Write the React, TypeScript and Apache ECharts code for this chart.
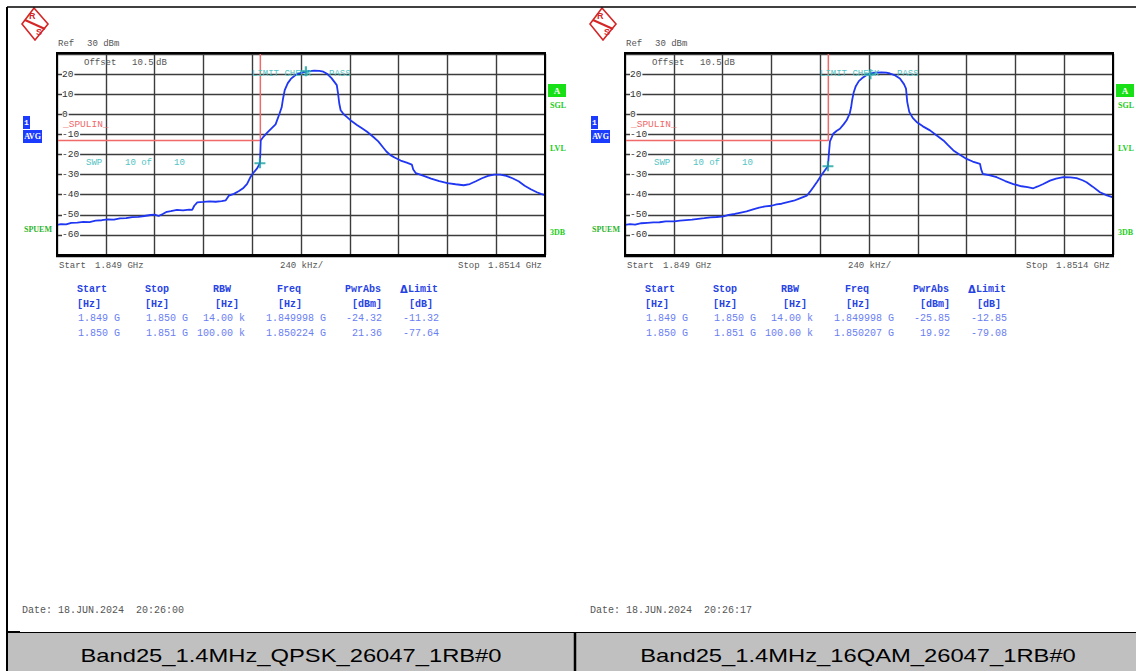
import React, { useEffect, useRef } from "react";
import * as echarts from "echarts";

// ---------- data ----------
const SPAN_KHZ = 2400; // 1.849 GHz .. 1.8514 GHz, offsets in kHz from start
const DIV_KHZ = 240;
const REF_TOP = 30;
const REF_BOTTOM = -70;
const DB_DIV = 10;

const leftFreq = [
  0, 20, 45, 70, 100, 130, 160, 190, 220, 250, 280, 310, 340, 370, 400, 430, 460, 480, 500, 520,
  540, 560, 590, 620, 650, 665, 675, 690, 720, 750, 780, 810, 830, 845, 870, 895, 915, 935, 950, 965,
  985, 998, 1000, 1002, 1015, 1035, 1055, 1075, 1095, 1105, 1112, 1120, 1135, 1150, 1170, 1190, 1215,
  1240, 1265, 1290, 1310, 1330, 1350, 1365, 1376, 1382, 1388, 1395, 1410, 1425, 1450, 1475, 1500,
  1525, 1556, 1580, 1600, 1620, 1640, 1660, 1690, 1720, 1745, 1752, 1765, 1800, 1840, 1880, 1920,
  1960, 2000, 2030, 2060, 2090, 2120, 2150, 2180, 2210, 2240, 2270, 2300, 2330, 2360, 2380, 2400,
];
const leftLevel = [
  -55.0, -54.6, -54.8, -54.0, -53.9, -53.5, -53.6, -52.9, -52.7, -52.3, -52.4, -51.8, -51.7, -51.2,
  -51.0, -50.6, -50.1, -49.9, -50.6, -49.6, -48.5, -48.2, -47.6, -47.8, -47.4, -47.6, -45.5, -43.8,
  -43.6, -43.3, -43.5, -43.2, -42.8, -40.5, -39.6, -38.2, -36.8, -34.6, -31.5, -29.2, -26.8, -24.3,
  -19.0, -13.0, -11.2, -9.0, -7.0, -5.0, 0.5, 3.5, 8.0, 12.0, 15.5, 17.6, 19.3, 20.4, 21.0, 21.5,
  21.7, 21.6, 21.2, 20.0, 18.0, 16.0, 14.5, 10.5, 5.5, 2.0, 0.0, -1.3, -3.5, -5.3, -7.0, -8.7, -11.3,
  -13.5, -16.0, -18.5, -20.3, -21.5, -23.0, -24.0, -25.0, -27.5, -29.3, -30.5, -32.0, -33.2, -34.2,
  -34.8, -35.3, -34.7, -33.3, -31.8, -30.6, -30.0, -30.0, -30.6, -31.8, -33.3, -35.5, -37.3, -38.8,
  -39.6, -40.2,
];

const rightFreq = [
  0, 25, 50, 80, 110, 140, 170, 200, 243, 270, 300, 330, 360, 390, 420, 450, 484, 510, 540, 570,
  598, 630, 660, 690, 721, 745, 770, 800, 830, 860, 894, 910, 926, 945, 965, 985, 998, 1004, 1008,
  1024, 1040, 1057, 1075, 1090, 1105, 1112, 1117, 1125, 1135, 1150, 1165, 1185, 1205, 1230, 1262,
  1285, 1303, 1325, 1352, 1372, 1382, 1388, 1398, 1415, 1434, 1465, 1500, 1530, 1566, 1590, 1615,
  1645, 1680, 1710, 1746, 1752, 1760, 1790, 1828, 1870, 1910, 1950, 1980, 2008, 2030, 2057, 2090,
  2120, 2156, 2190, 2221, 2250, 2270, 2300, 2336, 2370, 2400,
];
const rightLevel = [
  -55.0, -54.6, -54.9, -54.2, -54.0, -53.8, -53.7, -53.3, -53.3, -52.9, -52.6, -52.4, -52.0, -51.7,
  -51.3, -51.1, -50.8, -50.0, -49.6, -48.9, -48.3, -47.3, -46.4, -45.8, -45.5, -44.8, -44.5, -43.7,
  -43.0, -41.8, -40.5, -38.5, -36.3, -33.5, -30.5, -27.6, -25.9, -18.0, -13.5, -9.7, -8.3, -7.2,
  -5.0, -3.0, 0.3, 3.5, 7.0, 11.0, 14.0, 16.5, 17.9, 19.3, 20.2, 20.7, 20.8, 20.7, 20.3, 19.5, 17.8,
  15.0, 12.8, 6.2, 1.2, -1.8, -3.8, -6.0, -8.0, -10.3, -13.0, -15.5, -18.0, -20.0, -22.2, -23.5,
  -24.7, -27.5, -29.7, -30.3, -31.3, -33.2, -34.7, -35.8, -36.2, -36.8, -35.9, -34.7, -33.0, -32.0,
  -31.3, -31.4, -31.8, -32.8, -33.8, -36.0, -38.8, -40.3, -41.3,
];

const leftMarkerFreq = [998, 1224];
const leftMarkerLevel = [-24.32, 21.36];
const rightMarkerFreq = [998, 1207];
const rightMarkerLevel = [-25.85, 19.92];

const limitFreq = [0, 1000, 1000];
const limitLevel = [-13, -13, 30];

const tableHead = ["Start", "Stop", "RBW", "Freq", "PwrAbs", "Limit"];
const tableUnits = ["[Hz]", "[Hz]", "[Hz]", "[Hz]", "[dBm]", "[dB]"];
const leftRows = [
  ["1.849 G", "1.850 G", "14.00 k", "1.849998 G", "-24.32", "-11.32"],
  ["1.850 G", "1.851 G", "100.00 k", "1.850224 G", "21.36", "-77.64"],
];
const rightRows = [
  ["1.849 G", "1.850 G", "14.00 k", "1.849998 G", "-25.85", "-12.85"],
  ["1.850 G", "1.851 G", "100.00 k", "1.850207 G", "19.92", "-79.08"],
];
const captions = ["Band25_1.4MHz_QPSK_26047_1RB#0", "Band25_1.4MHz_16QAM_26047_1RB#0"];
const dates = ["Date: 18.JUN.2024  20:26:00", "Date: 18.JUN.2024  20:26:17"];

// ---------- layout ----------
const W = 1136;
const H = 671;
const PANEL_DX = 568;
const PLOT = { left: 57, top: 54, width: 488, height: 201 };
const MONO = "'Liberation Mono', 'DejaVu Sans Mono', monospace";
const GRAY = "#555";
const TEAL = "#52c3c3";
const RED = "#f06a6a";
const BLUE_TRACE = "#1f36f2";
const GREEN = "#22cc22";

const pairs = (xs: number[], ys: number[]) => xs.map((x, i) => [x, ys[i]]);

function txt(x: number, y: number, text: string, fill: string, size: number, extra: any = {}) {
  return {
    type: "text",
    x,
    y,
    z: 100,
    style: {
      text,
      fill,
      fontSize: size,
      fontFamily: extra.family || MONO,
      fontWeight: extra.bold ? "bold" : "normal",
      align: extra.align || "left",
      verticalAlign: "middle",
    },
  };
}

function panelGraphics(p: number) {
  const ox = p * PANEL_DX;
  const rows = p === 0 ? leftRows : rightRows;
  const g: any[] = [];
  // logo
  g.push({
    type: "polygon",
    z: 100,
    shape: { points: [[ox + 34, 8], [ox + 48, 24], [ox + 35, 40], [ox + 22, 24]] },
    style: { fill: "none", stroke: "#d42626", lineWidth: 1.6 },
  });
  g.push({
    type: "line",
    z: 100,
    shape: { x1: ox + 25, y1: 20, x2: ox + 45, y2: 29 },
    style: { stroke: "#d42626", lineWidth: 2.2 },
  });
  g.push(txt(ox + 29, 16, "R", "#d42626", 9, { bold: true, family: "Liberation Sans" }));
  g.push(txt(ox + 36, 32, "S", "#d42626", 9, { bold: true, family: "Liberation Sans" }));

  // header texts
  g.push(txt(ox + 58, 44, "Ref", GRAY, 9));
  g.push(txt(ox + 87, 44, "30 dBm", GRAY, 9));
  g.push(txt(ox + 84, 63, "Offset", GRAY, 9));
  g.push(txt(ox + 132, 63, "10.5", GRAY, 9));
  g.push(txt(ox + 156, 63, "dB", GRAY, 9));
  g.push(txt(ox + 252, 74, "LIMIT CHECK", TEAL, 9));
  g.push(txt(ox + 329, 74, "PASS", TEAL, 9));
  g.push(txt(ox + 63, 124.5, "_SPULIN_", RED, 9.5));
  g.push(txt(ox + 86, 163, "SWP", TEAL, 9));
  g.push(txt(ox + 125, 163, "10 of", TEAL, 9));
  g.push(txt(ox + 174, 163, "10", TEAL, 9));

  // left side badges
  g.push({ type: "rect", z: 100, shape: { x: ox + 23, y: 116, width: 7, height: 13 }, style: { fill: "#1b3cff" } });
  g.push(txt(ox + 26.5, 122.5, "1", "#fff", 8, { bold: true, align: "center" }));
  g.push({ type: "rect", z: 100, shape: { x: ox + 23, y: 130, width: 19, height: 13 }, style: { fill: "#1b3cff" } });
  g.push(txt(ox + 32.5, 136.5, "AVG", "#fff", 8, { bold: true, align: "center", family: "Liberation Serif" }));
  g.push(txt(ox + 24, 229, "SPUEM", "#2db52d", 8, { bold: true, family: "Liberation Serif" }));

  // right side badges
  g.push({ type: "rect", z: 100, shape: { x: ox + 548, y: 84, width: 18, height: 13 }, style: { fill: "#17e017" } });
  g.push(txt(ox + 557, 90.5, "A", "#fff", 9, { bold: true, align: "center", family: "Liberation Serif" }));
  g.push(txt(ox + 550, 105, "SGL", GREEN, 8, { bold: true, family: "Liberation Serif" }));
  g.push(txt(ox + 550, 148, "LVL", GREEN, 8, { bold: true, family: "Liberation Serif" }));
  g.push(txt(ox + 550, 232, "3DB", GREEN, 8, { bold: true, family: "Liberation Serif" }));

  // plot frame
  g.push({
    type: "rect",
    z: 90,
    shape: { x: ox + PLOT.left, y: PLOT.top - 1, width: PLOT.width, height: PLOT.height + 1 },
    style: { fill: "none", stroke: "#000", lineWidth: 2 },
  });
  g.push({
    type: "line",
    z: 90,
    shape: { x1: ox + PLOT.left - 1, y1: 256, x2: ox + PLOT.left + PLOT.width + 1, y2: 256 },
    style: { stroke: "#000", lineWidth: 2.5 },
  });

  // bottom axis annotations
  g.push(txt(ox + 59, 266, "Start", GRAY, 9));
  g.push(txt(ox + 95, 266, "1.849 GHz", GRAY, 9));
  g.push(txt(ox + 280, 266, "240 kHz/", GRAY, 9));
  g.push(txt(ox + 458, 266, "Stop", GRAY, 9));
  g.push(txt(ox + 488, 266, "1.8514 GHz", GRAY, 9));

  // table
  const headX = [77, 145, 213, 277, 345, 408];
  const unitX = [77, 145, 215, 278, 352, 409];
  const rightEdge = [120, 188, 245, 326, 382, 439];
  const HEAD_BLUE = "#2743e4";
  const DATA_BLUE = "#6a7ef4";
  tableHead.forEach((h, i) => g.push(txt(ox + headX[i], 289, h, HEAD_BLUE, 10, { bold: true })));
  g.push(txt(ox + 400, 289, "\u0394", HEAD_BLUE, 10, { bold: true, family: "DejaVu Sans" }));
  tableUnits.forEach((u, i) => g.push(txt(ox + unitX[i], 304, u, HEAD_BLUE, 10, { bold: true })));
  rows.forEach((r, ri) =>
    r.forEach((c, ci) => g.push(txt(ox + rightEdge[ci], 318 + ri * 15, c, DATA_BLUE, 10, { align: "right" })))
  );

  // date
  g.push(txt(ox + 22, 610, dates[p], GRAY, 10));

  // caption
  g.push({
    type: "text",
    x: ox + (p === 0 ? 291 : 290),
    y: 656,
    z: 110,
    scaleX: 1.25,
    style: {
      text: captions[p],
      fill: "#000",
      fontSize: 19,
      fontFamily: "'Liberation Sans', Arial, sans-serif",
      align: "center",
      verticalAlign: "middle",
    },
  });
  return g;
}

function frameGraphics() {
  return [
    { type: "rect", z: 105, shape: { x: 7, y: 632, width: W - 7, height: H - 632 }, style: { fill: "#c0c0c0" } },
    { type: "line", z: 106, shape: { x1: 7, y1: 632.5, x2: W, y2: 632.5 }, style: { stroke: "#000", lineWidth: 1 } },
    { type: "line", z: 106, shape: { x1: 7, y1: 632, x2: 20, y2: 632 }, style: { stroke: "#000", lineWidth: 2 } },
    { type: "line", z: 106, shape: { x1: 575, y1: 632, x2: 575, y2: H }, style: { stroke: "#000", lineWidth: 2.5 } },
    { type: "line", z: 106, shape: { x1: 7, y1: 7, x2: W, y2: 7 }, style: { stroke: "#000", lineWidth: 1.5 } },
    { type: "line", z: 106, shape: { x1: 7, y1: 7, x2: 7, y2: H }, style: { stroke: "#000", lineWidth: 2 } },
  ];
}

function axesFor(i: number) {
  const x = {
    type: "value",
    gridIndex: i,
    min: 0,
    max: SPAN_KHZ,
    interval: DIV_KHZ,
    axisLabel: { show: false },
    axisTick: { show: false },
    axisLine: { show: false },
    splitLine: { show: true, lineStyle: { color: "#3c3c3c", width: 1.4 } },
  };
  const y = {
    type: "value",
    gridIndex: i,
    min: REF_BOTTOM,
    max: REF_TOP,
    interval: DB_DIV,
    axisTick: { show: false },
    axisLine: { show: false },
    splitLine: { show: true, lineStyle: { color: "#3c3c3c", width: 1.4 } },
    axisLabel: {
      inside: true,
      margin: 5,
      color: "#333",
      fontSize: 9.5,
      fontFamily: MONO,
      backgroundColor: "#fff",
      padding: [0, 1, 0, 0],
      formatter: (v: number) => (v === REF_TOP || v === REF_BOTTOM ? "" : String(v)),
    },
  };
  return { x, y };
}

const PLUS = "path://M4,0H6V4H10V6H6V10H4V6H0V4H4Z";

function seriesFor(i: number) {
  const f = i === 0 ? leftFreq : rightFreq;
  const l = i === 0 ? leftLevel : rightLevel;
  const mf = i === 0 ? leftMarkerFreq : rightMarkerFreq;
  const ml = i === 0 ? leftMarkerLevel : rightMarkerLevel;
  return [
    {
      type: "line",
      xAxisIndex: i,
      yAxisIndex: i,
      data: pairs(limitFreq, limitLevel),
      symbol: "none",
      lineStyle: { color: RED, width: 1.5 },
      z: 3,
    },
    {
      type: "line",
      xAxisIndex: i,
      yAxisIndex: i,
      data: pairs(f, l),
      symbol: "none",
      lineStyle: { color: BLUE_TRACE, width: 1.8 },
      z: 4,
    },
    {
      type: "scatter",
      xAxisIndex: i,
      yAxisIndex: i,
      data: pairs(mf, ml),
      symbol: PLUS,
      symbolSize: [11, 10],
      itemStyle: { color: "#19a0a0" },
      z: 5,
    },
  ];
}

export default function App() {
  const ref = useRef<HTMLDivElement>(null);
  useEffect(() => {
    if (!ref.current) return;
    const chart = echarts.init(ref.current, undefined, { renderer: "svg" });
    const a0 = axesFor(0);
    const a1 = axesFor(1);
    chart.setOption({
      animation: false,
      backgroundColor: "#fff",
      grid: [
        { left: PLOT.left, top: PLOT.top, width: PLOT.width, height: PLOT.height },
        { left: PLOT.left + PANEL_DX, top: PLOT.top, width: PLOT.width, height: PLOT.height },
      ],
      xAxis: [a0.x, a1.x],
      yAxis: [a0.y, a1.y],
      series: [...seriesFor(0), ...seriesFor(1)],
      graphic: [...frameGraphics(), ...panelGraphics(0), ...panelGraphics(1)],
    });
    return () => chart.dispose();
  }, []);
  return (
    <div
      ref={ref}
      style={{ position: "fixed", left: 0, top: 0, width: W, height: H, background: "#fff" }}
    />
  );
}
